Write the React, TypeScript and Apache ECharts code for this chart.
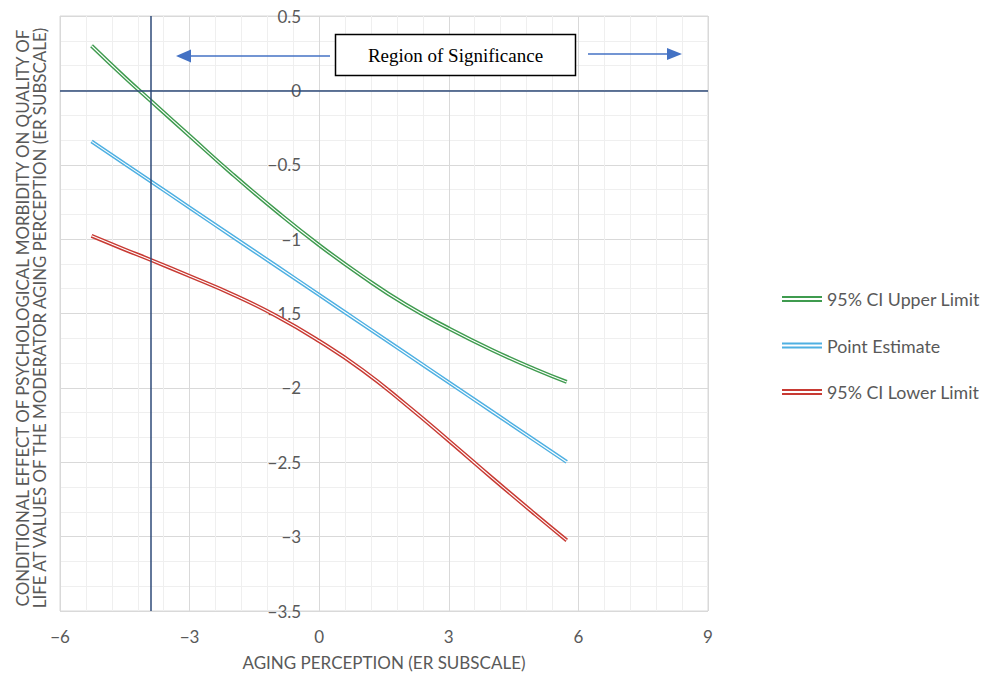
import React, { useEffect, useRef } from "react";
import * as echarts from "echarts";

const xValues = [-5.27, -4.5, -3.88, -3, -2, -1, 0, 1, 2, 3, 4, 5, 5.73];
const upperCI = [0.3, 0.088, -0.075, -0.305, -0.565, -0.81, -1.04, -1.25, -1.44, -1.6, -1.745, -1.875, -1.96];
const pointEstimate = [-0.343, -0.494, -0.615, -0.788, -0.984, -1.179, -1.375, -1.571, -1.767, -1.963, -2.159, -2.355, -2.498];
const lowerCI = [-0.978, -1.07, -1.142, -1.248, -1.372, -1.515, -1.685, -1.88, -2.11, -2.355, -2.605, -2.85, -3.025];
const jnPoint = -3.89;
const seriesNames = ["95% CI Upper Limit", "Point Estimate", "95% CI Lower Limit"];
const seriesColors = ["#3f9b4f", "#4fb0e2", "#c83a33"];
const xTitle = "AGING PERCEPTION (ER SUBSCALE)";
const yTitleLines = [
  "CONDITIONAL EFFECT OF PSYCHOLOGICAL MORBIDITY ON QUALITY OF",
  "LIFE AT VALUES OF THE MODERATOR AGING PERCEPTION (ER SUBSCALE)",
];
const annotationText = "Region of Significance";

const FONT = "Lato";
const TXT = "#595959";

const fmt = (v: number) => String(v).replace("-", "\u2212");

export default function App() {
  const ref = useRef<HTMLDivElement>(null);
  useEffect(() => {
    if (!ref.current) return;
    const chart = echarts.init(ref.current, undefined, { renderer: "svg" });
    const allSeries: any[] = [];
    const dataSets = [upperCI, pointEstimate, lowerCI];
    dataSets.forEach((vals, i) => {
      const data = xValues.map((x, k) => [x, vals[k]]);
      allSeries.push({
        name: seriesNames[i],
        type: "line",
        data,
        smooth: 0.5,
        showSymbol: false,
        symbol: "none",
        color: seriesColors[i],
        lineStyle: { width: 4, color: seriesColors[i] },
        z: 3,
        silent: true,
      });
      allSeries.push({
        name: "_inner" + i,
        type: "line",
        data,
        smooth: 0.5,
        showSymbol: false,
        symbol: "none",
        color: "#ffffff",
        lineStyle: { width: 1.1, color: "#ffffff" },
        z: 4,
        silent: true,
      });
    });
    allSeries.push({
      name: "_ref",
      type: "line",
      data: [],
      markLine: {
        silent: true,
        symbol: "none",
        label: { show: false },
        lineStyle: { color: "#2e4a78", width: 1.5, type: "solid" },
        data: [{ yAxis: 0 }, { xAxis: jnPoint }],
      },
      z: 2,
    });

    chart.setOption({
      animation: false,
      backgroundColor: "#ffffff",
      grid: {
        left: 60,
        right: 278,
        top: 16,
        bottom: 69,
        show: true,
        borderColor: "#d9d9d9",
        borderWidth: 1,
      },
      xAxis: {
        type: "value",
        min: -6,
        max: 9,
        interval: 3,
        name: xTitle,
        nameLocation: "middle",
        nameGap: 43,
        nameTextStyle: { fontFamily: FONT, fontSize: 17, color: TXT },
        axisLine: { show: false, onZero: false },
        axisTick: { show: false },
        axisLabel: { margin: 17, fontFamily: FONT, fontSize: 17, color: TXT, formatter: fmt },
        splitLine: { show: true, lineStyle: { color: "#d9d9d9", width: 1 } },
        minorTick: { show: false, splitNumber: 5 },
        minorSplitLine: { show: true, lineStyle: { color: "#efefef", width: 1 } },
      },
      yAxis: {
        type: "value",
        min: -3.5,
        max: 0.5,
        interval: 0.5,
        position: "left",
        offset: -259.2,
        axisLine: { show: false },
        axisTick: { show: false },
        axisLabel: { margin: 18, fontFamily: FONT, fontSize: 17, color: TXT, formatter: fmt },
        splitLine: { show: true, lineStyle: { color: "#d9d9d9", width: 1 } },
        minorTick: { show: false, splitNumber: 3 },
        minorSplitLine: { show: true, lineStyle: { color: "#efefef", width: 1 } },
      },
      legend: {
        data: seriesNames,
        orient: "vertical",
        left: 777,
        top: 285,
        itemWidth: 40,
        itemHeight: 6,
        itemGap: 28.5,
        icon: "path://M0,0L40,0L40,2L0,2Z M0,4L40,4L40,6L0,6Z",
        textStyle: { fontFamily: FONT, fontSize: 17.8, color: TXT },
        selectedMode: false,
      },
      graphic: [
        {
          type: "text",
          x: 22,
          y: 318,
          rotation: Math.PI / 2,
          style: {
            text: yTitleLines[0],
            align: "center",
            verticalAlign: "middle",
            fontFamily: FONT,
            fontSize: 16.9,
            fill: TXT,
          },
        },
        {
          type: "text",
          x: 39,
          y: 318,
          rotation: Math.PI / 2,
          style: {
            text: yTitleLines[1],
            align: "center",
            verticalAlign: "middle",
            fontFamily: FONT,
            fontSize: 16.9,
            fill: TXT,
          },
        },
        {
          type: "rect",
          shape: { x: 335.5, y: 34.5, width: 240, height: 41 },
          style: { fill: "#ffffff", stroke: "#000000", lineWidth: 1.5 },
          z: 10,
        },
        {
          type: "text",
          x: 455.5,
          y: 55,
          style: {
            text: annotationText,
            align: "center",
            verticalAlign: "middle",
            fontFamily: "Liberation Serif",
            fontSize: 19,
            fill: "#000000",
          },
          z: 11,
        },
        {
          type: "line",
          shape: { x1: 330, y1: 56, x2: 188, y2: 56 },
          style: { stroke: "#4472c4", lineWidth: 1.5 },
          z: 10,
        },
        {
          type: "polygon",
          shape: { points: [[176, 56], [191, 49.5], [191, 62.5]] },
          style: { fill: "#4472c4" },
          z: 10,
        },
        {
          type: "line",
          shape: { x1: 588, y1: 54, x2: 670, y2: 54 },
          style: { stroke: "#4472c4", lineWidth: 1.5 },
          z: 10,
        },
        {
          type: "polygon",
          shape: { points: [[682, 54], [667, 48], [667, 60]] },
          style: { fill: "#4472c4" },
          z: 10,
        },
      ],
      series: allSeries,
    });
    return () => chart.dispose();
  }, []);
  return <div ref={ref} style={{ width: 986, height: 680, position: "absolute", left: 0, top: 0 }} />;
}
